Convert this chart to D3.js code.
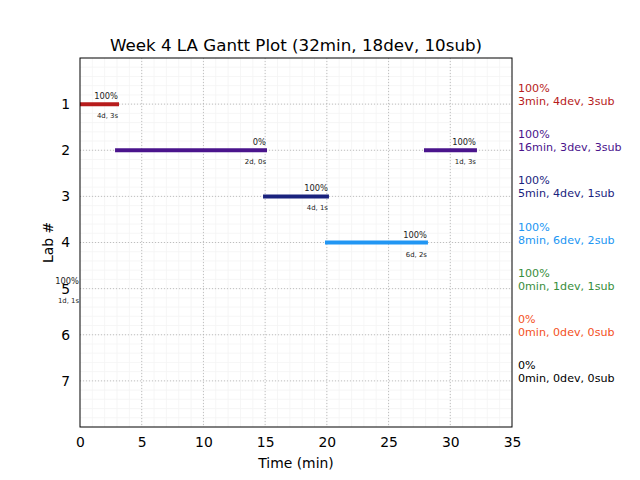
<!DOCTYPE html>
<html><head><meta charset="utf-8">
<script src="https://cdn.jsdelivr.net/npm/d3@7"></script>
<style>body{margin:0;background:#fff;} text{font-family:"DejaVu Sans",sans-serif;}</style>
</head><body>
<svg id="c" width="640" height="480"></svg>
<script>
const title = "Week 4 LA Gantt Plot (32min, 18dev, 10sub)";
const labs = [1, 2, 3, 4, 5, 6, 7];
const labColors = ["#b71c1c", "#4a148c", "#1a237e", "#2196f3", "#388e3c", "#f4511e", "#000000"];
// segments: lab, start, end (minutes), percent label, detail label
const segLab   = [1, 2, 2, 3, 4, 5];
const segStart = [0, 2.84, 27.87, 14.83, 19.85, 0];
const segEnd   = [3.16, 15.15, 32.16, 20.17, 28.19, 0];
const segPct   = ["100%", "0%", "100%", "100%", "100%", "100%"];
const segInfo  = ["4d, 3s", "2d, 0s", "1d, 3s", "4d, 1s", "6d, 2s", "1d, 1s"];
const legendPct  = ["100%", "100%", "100%", "100%", "100%", "0%", "0%"];
const legendInfo = ["3min, 4dev, 3sub", "16min, 3dev, 3sub", "5min, 4dev, 1sub", "8min, 6dev, 2sub", "0min, 1dev, 1sub", "0min, 0dev, 0sub", "0min, 0dev, 0sub"];
const xTicks = [0, 5, 10, 15, 20, 25, 30, 35];

const svg = d3.select("#c");
const L = 80, R = 512, T = 58, B = 427;
const x = d3.scaleLinear().domain([0, 35]).range([L, R]);
const y = d3.scaleLinear().domain([0, 8]).range([T, B]);

// minor grid
const g = svg.append("g");
g.selectAll(".mx").data(d3.range(1, 35)).enter().append("line")
  .attr("x1", d => x(d)).attr("x2", d => x(d)).attr("y1", T).attr("y2", B)
  .attr("stroke", "#f4f4f4").attr("stroke-width", 0.8);
g.selectAll(".my").data(d3.range(1, 40).map(i => i * 0.2)).enter().append("line")
  .attr("y1", d => y(d)).attr("y2", d => y(d)).attr("x1", L).attr("x2", R)
  .attr("stroke", "#f4f4f4").attr("stroke-width", 0.8);
// major grid
g.selectAll(".Mx").data(xTicks.slice(1, -1)).enter().append("line")
  .attr("x1", d => x(d)).attr("x2", d => x(d)).attr("y1", T).attr("y2", B)
  .attr("stroke", "#b0b0b0").attr("stroke-width", 0.8).attr("stroke-dasharray", "1,2");
g.selectAll(".My").data(labs).enter().append("line")
  .attr("y1", d => y(d)).attr("y2", d => y(d)).attr("x1", L).attr("x2", R)
  .attr("stroke", "#b0b0b0").attr("stroke-width", 0.8).attr("stroke-dasharray", "1,2");

// bars
svg.selectAll(".bar").data(segLab).enter().append("line")
  .attr("x1", (d, i) => x(segStart[i])).attr("x2", (d, i) => x(segEnd[i]))
  .attr("y1", d => y(d)).attr("y2", d => y(d))
  .attr("stroke", d => labColors[d - 1]).attr("stroke-width", 4);

// frame
svg.append("rect").attr("x", L).attr("y", T).attr("width", R - L).attr("height", B - T)
  .attr("fill", "none").attr("stroke", "#000").attr("stroke-width", 1);

// axes
const xa = svg.append("g").attr("transform", `translate(0,${B})`)
  .call(d3.axisBottom(x).tickValues(xTicks).tickSize(0).tickPadding(10));
xa.select(".domain").remove();
xa.selectAll("text").attr("font-size", 13.9).attr("fill", "#000").attr("font-family", "DejaVu Sans");
const ya = svg.append("g").attr("transform", `translate(${L},0)`)
  .call(d3.axisLeft(y).tickValues(labs).tickSize(0).tickPadding(10));
ya.select(".domain").remove();
ya.selectAll("text").attr("font-size", 13.9).attr("fill", "#000").attr("font-family", "DejaVu Sans");

// bar labels
svg.selectAll(".pct").data(segLab).enter().append("text")
  .attr("x", (d, i) => x(segEnd[i]) - 1).attr("y", d => y(d) - 5)
  .attr("text-anchor", "end").attr("font-size", 8.3).attr("fill", "#222")
  .text((d, i) => segPct[i]);
svg.selectAll(".info").data(segLab).enter().append("text")
  .attr("x", (d, i) => x(segEnd[i]) - 1).attr("y", d => y(d) + 14)
  .attr("text-anchor", "end").attr("font-size", 6.9).attr("fill", "#222")
  .text((d, i) => segInfo[i]);

svg.append("text").attr("x", (L + R) / 2).attr("y", 468).attr("text-anchor", "middle")
  .attr("font-size", 13.9).text("Time (min)");
svg.append("text").attr("transform", `translate(53,${(T + B) / 2}) rotate(-90)`)
  .attr("text-anchor", "middle").attr("font-size", 13.9).text("Lab #");
svg.append("text").attr("x", (L + R) / 2).attr("y", 51).attr("text-anchor", "middle")
  .attr("font-size", 16.7).text(title);

// legend text
labs.forEach((d, i) => {
  svg.append("text").attr("x", 518).attr("y", y(d) - 12).attr("font-size", 11.1)
    .attr("fill", labColors[i]).text(legendPct[i]);
  svg.append("text").attr("x", 518).attr("y", y(d) + 1).attr("font-size", 11.1)
    .attr("fill", labColors[i]).text(legendInfo[i]);
});
</script>
</body></html>
